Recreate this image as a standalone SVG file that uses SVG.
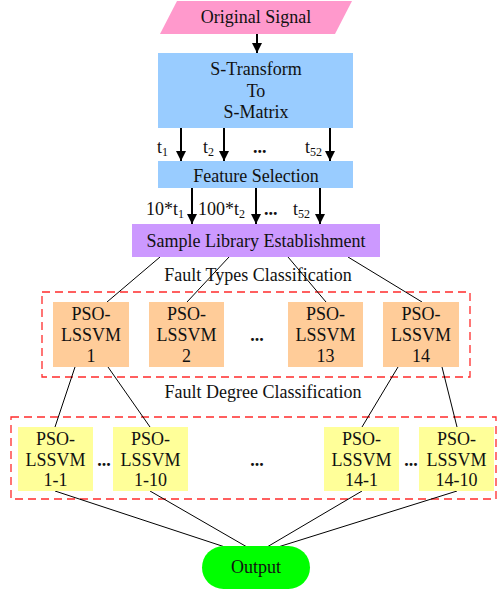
<svg xmlns="http://www.w3.org/2000/svg" width="497" height="594" viewBox="0 0 497 594">
  <style>
    text { font-family: "Liberation Serif", "Times New Roman", serif; font-size: 18px; fill: #111; }
    .c { text-anchor: middle; }
    .sub { font-size: 12px; }
    .dots { font-weight: bold; font-size: 18px; }
    .wire { stroke: #000; stroke-width: 1; fill: none; }
    .arrow { stroke: #000; stroke-width: 2; fill: none; marker-end: url(#head); }
    .frame { fill: none; stroke: #ff2b2b; stroke-width: 1.3; stroke-dasharray: 8 5; }
    .blue { fill: #99ccff; }
    .orange { fill: #ffcc99; }
    .yellow { fill: #ffff99; }
  </style>
  <defs>
    <!-- filled triangular head, drawn along the line direction -->
    <marker id="head" markerWidth="10" markerHeight="10" refX="10" refY="5" orient="auto" markerUnits="userSpaceOnUse" viewBox="0 0 10 10">
      <path d="M0,0 L10,5 L0,10 Z" fill="#000"/>
    </marker>
  </defs>

  <!-- dashed group frames -->
  <rect class="frame" x="42" y="292" width="428" height="85"/>
  <rect class="frame" x="11" y="417" width="485" height="82"/>

  <!-- connectors -->
  <g id="connectors">
    <line class="arrow" x1="257" y1="34" x2="257" y2="53"/>
    <line class="arrow" x1="181" y1="128" x2="181" y2="161"/>
    <line class="arrow" x1="224" y1="128" x2="224" y2="161"/>
    <line class="arrow" x1="330" y1="128" x2="330" y2="161"/>
    <line class="arrow" x1="192" y1="188" x2="192" y2="224"/>
    <line class="arrow" x1="256" y1="188" x2="256" y2="224"/>
    <line class="arrow" x1="320" y1="188" x2="320" y2="224"/>

    <line class="wire" x1="160" y1="257" x2="107" y2="302"/>
    <line class="wire" x1="229" y1="257" x2="187" y2="302"/>
    <line class="wire" x1="288" y1="257" x2="326" y2="302"/>
    <line class="wire" x1="348" y1="257" x2="422" y2="302"/>

    <line class="wire" x1="75" y1="367" x2="55" y2="427"/>
    <line class="wire" x1="108" y1="367" x2="150" y2="427"/>
    <line class="wire" x1="398" y1="367" x2="362" y2="427"/>
    <line class="wire" x1="442" y1="367" x2="457" y2="427"/>

    <line class="wire" x1="55" y1="491" x2="225" y2="547"/>
    <line class="wire" x1="150" y1="491" x2="247" y2="547"/>
    <line class="wire" x1="362" y1="491" x2="267" y2="547"/>
    <line class="wire" x1="457" y1="491" x2="278" y2="547"/>
  </g>

  <g id="original-signal">
    <polygon points="177,1 352,1 335,34 160,34" fill="#ff99cc"/>
    <text class="c" x="256" y="23">Original Signal</text>
  </g>

  <g id="s-transform">
    <rect class="blue" x="158" y="53" width="195" height="75"/>
    <text class="c" x="256" y="75">S-Transform</text>
    <text class="c" x="256" y="97">To</text>
    <text class="c" x="256" y="118">S-Matrix</text>
  </g>

  <g id="t-labels">
    <text x="157" y="153">t<tspan class="sub" dy="3">1</tspan></text>
    <text x="203" y="153">t<tspan class="sub" dy="3">2</tspan></text>
    <text class="dots" x="253" y="153">...</text>
    <text x="305" y="153">t<tspan class="sub" dy="3">52</tspan></text>
  </g>

  <g id="feature-selection">
    <rect class="blue" x="158" y="161" width="195" height="27"/>
    <text class="c" x="256" y="182">Feature Selection</text>
  </g>

  <g id="weight-labels">
    <text x="146" y="215">10*t<tspan class="sub" dy="3">1</tspan></text>
    <text x="198" y="215">100*t<tspan class="sub" dy="3">2</tspan></text>
    <text class="dots" x="264" y="215">...</text>
    <text x="293" y="215">t<tspan class="sub" dy="3">52</tspan></text>
  </g>

  <g id="sample-library">
    <rect x="132" y="224" width="248" height="33" fill="#cc99ff"/>
    <text class="c" x="256" y="247">Sample Library Establishment</text>
  </g>

  <text class="c" x="258" y="281">Fault Types Classification</text>

  <g id="pso-1">
    <rect class="orange" x="53" y="302" width="76" height="65"/>
    <text class="c" x="91" y="320">PSO-</text>
    <text class="c" x="91" y="341">LSSVM</text>
    <text class="c" x="91" y="362">1</text>
  </g>
  <g id="pso-2">
    <rect class="orange" x="149" y="302" width="75" height="65"/>
    <text class="c" x="186.5" y="320">PSO-</text>
    <text class="c" x="186.5" y="341">LSSVM</text>
    <text class="c" x="186.5" y="362">2</text>
  </g>
  <text class="dots c" x="257" y="341">...</text>
  <g id="pso-13">
    <rect class="orange" x="288" y="302" width="75" height="65"/>
    <text class="c" x="325.5" y="320">PSO-</text>
    <text class="c" x="325.5" y="341">LSSVM</text>
    <text class="c" x="325.5" y="362">13</text>
  </g>
  <g id="pso-14">
    <rect class="orange" x="383" y="302" width="76" height="65"/>
    <text class="c" x="421" y="320">PSO-</text>
    <text class="c" x="421" y="341">LSSVM</text>
    <text class="c" x="421" y="362">14</text>
  </g>

  <text class="c" x="263" y="398">Fault Degree Classification</text>

  <g id="pso-1-1">
    <rect class="yellow" x="18" y="427" width="75" height="64"/>
    <text class="c" x="55.5" y="445">PSO-</text>
    <text class="c" x="55.5" y="466">LSSVM</text>
    <text class="c" x="55.5" y="486">1-1</text>
  </g>
  <text class="dots c" x="104" y="466">...</text>
  <g id="pso-1-10">
    <rect class="yellow" x="113" y="427" width="75" height="64"/>
    <text class="c" x="150.5" y="445">PSO-</text>
    <text class="c" x="150.5" y="466">LSSVM</text>
    <text class="c" x="150.5" y="486">1-10</text>
  </g>
  <text class="dots c" x="257" y="466">...</text>
  <g id="pso-14-1">
    <rect class="yellow" x="324" y="427" width="75" height="64"/>
    <text class="c" x="361.5" y="445">PSO-</text>
    <text class="c" x="361.5" y="466">LSSVM</text>
    <text class="c" x="361.5" y="486">14-1</text>
  </g>
  <text class="dots c" x="411" y="466">...</text>
  <g id="pso-14-10">
    <rect class="yellow" x="419" y="427" width="75" height="64"/>
    <text class="c" x="456.5" y="445">PSO-</text>
    <text class="c" x="456.5" y="466">LSSVM</text>
    <text class="c" x="456.5" y="486">14-10</text>
  </g>

  <g id="output">
    <rect x="202" y="546" width="108" height="43" rx="21.5" fill="#00ff00"/>
    <text class="c" x="256" y="573">Output</text>
  </g>
</svg>
